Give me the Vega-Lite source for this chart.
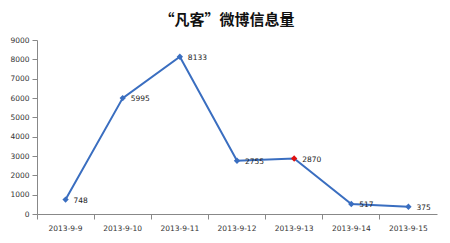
{
  "$schema": "https://vega.github.io/schema/vega-lite/v6.json",
  "width": 400,
  "height": 174,
  "autosize": {"type": "none"},
  "padding": {"left": 37, "top": 40, "right": 13, "bottom": 29},
  "background": "white",
  "title": {
    "text": "“凡客”微博信息量",
    "font": "Noto Sans CJK SC",
    "fontSize": 15,
    "fontWeight": "bold",
    "color": "#111111",
    "anchor": "middle",
    "dx": -10,
    "offset": 8
  },
  "data": {
    "values": [
      {"date": "2013-9-9", "count": 748, "hl": "n"},
      {"date": "2013-9-10", "count": 5995, "hl": "n"},
      {"date": "2013-9-11", "count": 8133, "hl": "n"},
      {"date": "2013-9-12", "count": 2755, "hl": "n"},
      {"date": "2013-9-13", "count": 2870, "hl": "y"},
      {"date": "2013-9-14", "count": 517, "hl": "n"},
      {"date": "2013-9-15", "count": 375, "hl": "n"}
    ]
  },
  "encoding": {
    "x": {
      "field": "date",
      "type": "ordinal",
      "sort": null,
      "scale": {"type": "band", "paddingInner": 0, "paddingOuter": 0},
      "axis": {
        "title": null,
        "labelAngle": 0,
        "bandPosition": 0,
        "grid": false,
        "domainColor": "#888888",
        "tickColor": "#888888",
        "tickSize": 5,
        "labelPadding": 5,
        "labelFont": "DejaVu Sans",
        "labelFontSize": 7.5,
        "labelColor": "#333333",
        "labelOffset": 0
      }
    },
    "y": {
      "field": "count",
      "type": "quantitative",
      "scale": {"domain": [0, 9000], "nice": false},
      "axis": {
        "title": null,
        "format": "d",
        "values": [0, 1000, 2000, 3000, 4000, 5000, 6000, 7000, 8000, 9000],
        "grid": false,
        "domainColor": "#888888",
        "tickColor": "#888888",
        "tickSize": 5,
        "labelPadding": 3,
        "labelFont": "DejaVu Sans",
        "labelFontSize": 7.5,
        "labelColor": "#333333"
      }
    }
  },
  "layer": [
    {
      "mark": {"type": "line", "color": "#3A6EC0", "strokeWidth": 2},
      "encoding": {}
    },
    {
      "mark": {"type": "point", "shape": "diamond", "filled": true, "size": 40, "opacity": 1},
      "encoding": {
        "color": {
          "field": "hl",
          "type": "nominal",
          "scale": {"domain": ["n", "y"], "range": ["#3A6EC0", "#E01010"]},
          "legend": null
        }
      }
    },
    {
      "mark": {"type": "text", "align": "left", "baseline": "middle", "dx": 8, "dy": 1, "font": "DejaVu Sans", "fontSize": 7.5, "color": "#222222"},
      "encoding": {"text": {"field": "count", "type": "quantitative", "format": "d"}}
    }
  ],
  "config": {"view": {"stroke": null}}
}
